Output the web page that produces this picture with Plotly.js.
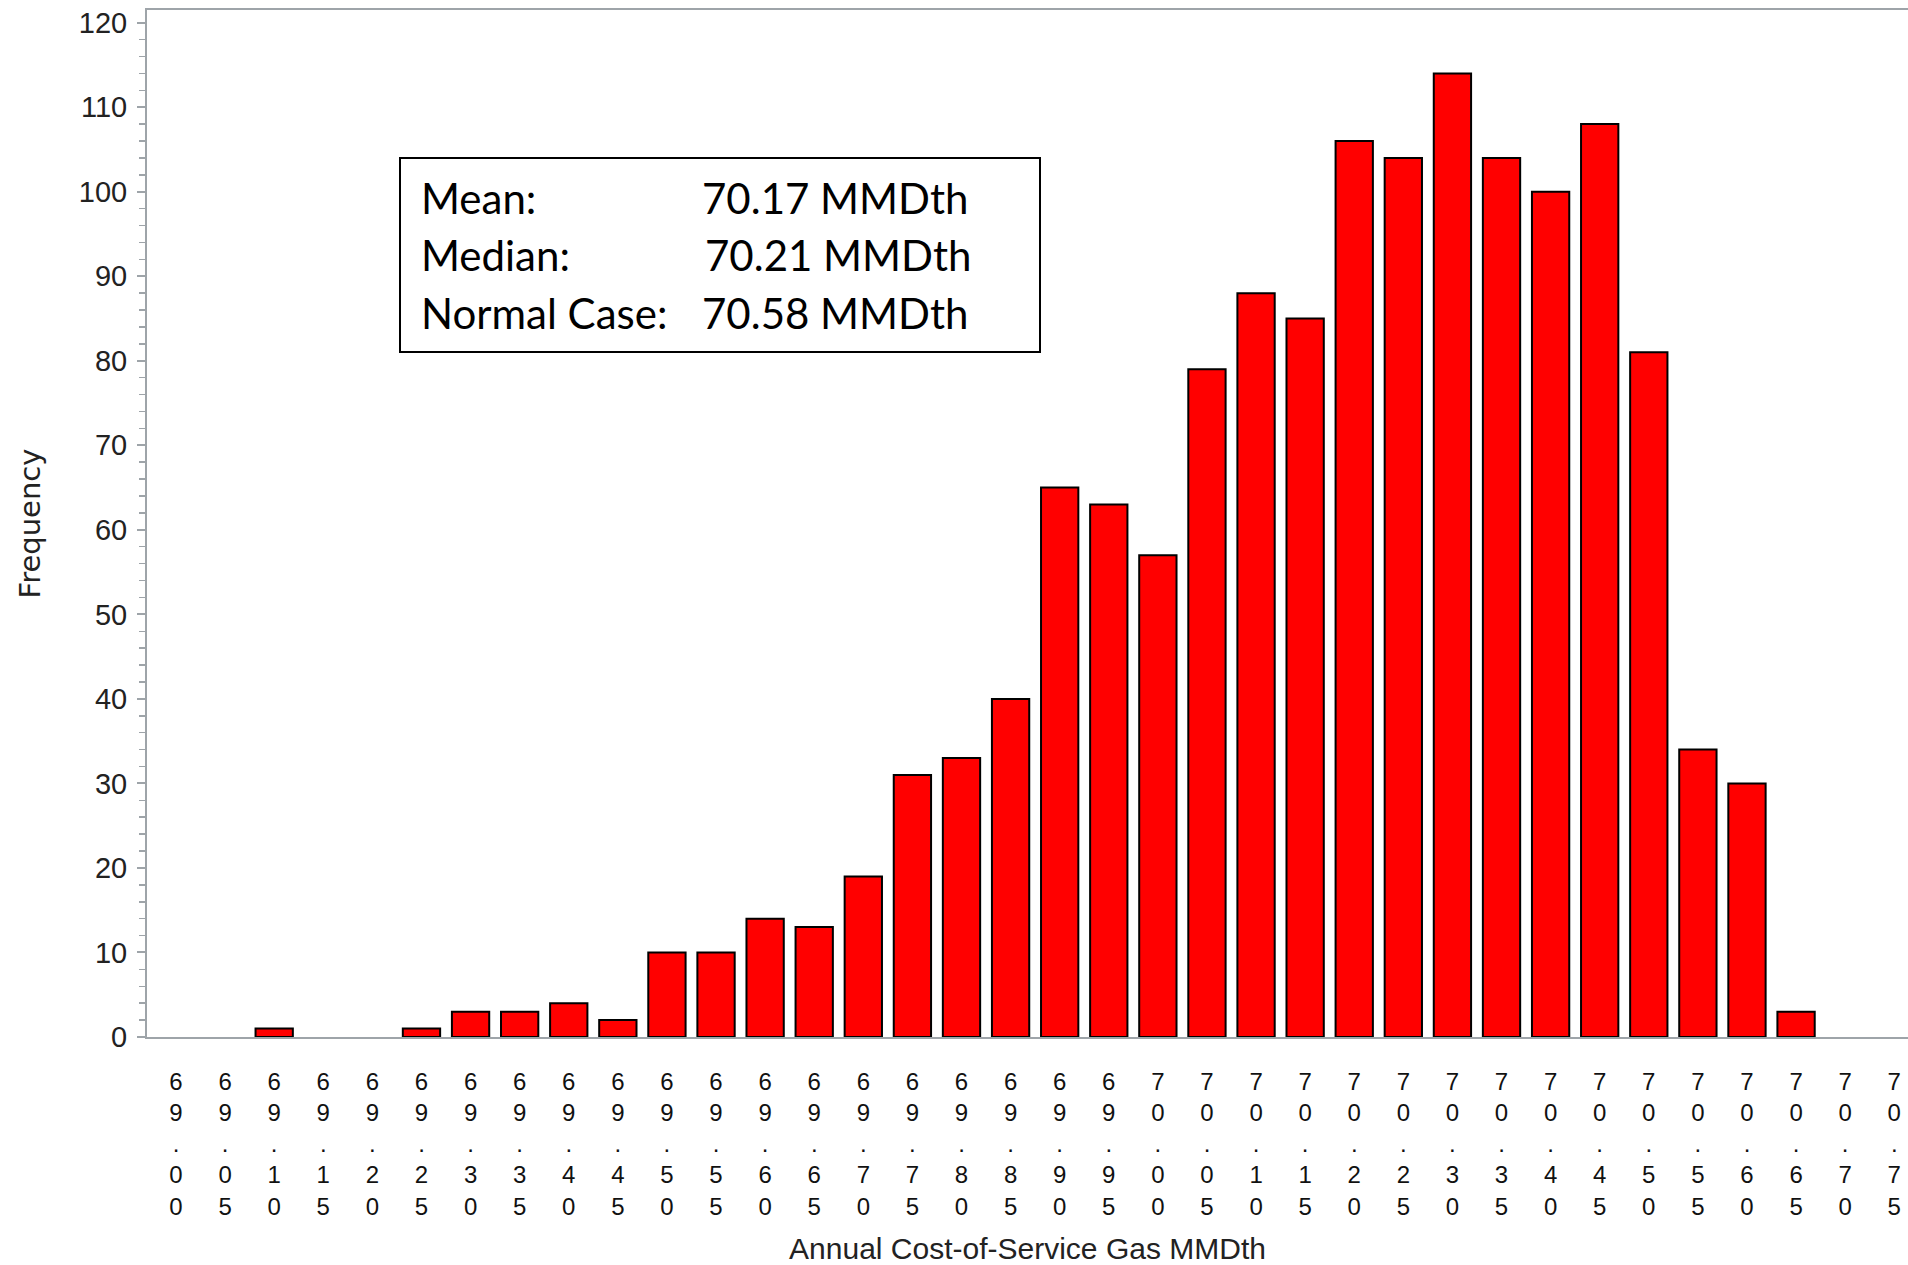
<!DOCTYPE html>
<html>
<head>
<meta charset="utf-8">
<script src="https://cdn.plot.ly/plotly-3.0.1.min.js"></script>
<style>html,body{margin:0;padding:0;background:#ffffff;}</style>
</head>
<body>
<div id="chart" style="width:1908px;height:1265px;"></div>
<script>
// Bin midpoints (tick labels) of the histogram
const bins = ["69.00","69.05","69.10","69.15","69.20","69.25","69.30","69.35","69.40","69.45",
              "69.50","69.55","69.60","69.65","69.70","69.75","69.80","69.85","69.90","69.95",
              "70.00","70.05","70.10","70.15","70.20","70.25","70.30","70.35","70.40","70.45",
              "70.50","70.55","70.60","70.65","70.70","70.75"];
// Frequency per bin
const frequency = [0,0,1,0,0,1,3,3,4,2,
                   10,10,14,13,19,31,33,40,65,63,
                   57,79,88,85,106,104,114,104,100,108,
                   81,34,30,3,0,0];
// Summary statistics box
const statLabels = ["Mean:","Median:","Normal Case:"];
const statValues = ["70.17 MMDth","70.21 MMDth","70.58 MMDth"];

const axisGray = "#9ea4a9";
const tickText = bins.map(b => b.split("").join("<br>"));

// plot area in pixels (used to place paper-referenced annotations)
const W = 1908, H = 1265, L = 147, R = 0, T = 10, B = 228;
const pw = W - L - R, ph = H - T - B;
const px2x = p => (p - L) / pw;
const py2y = p => (H - B - p) / ph;

const rowY = [198, 255.5, 312.7];
const valueX = [700, 703, 700];
const annotations = [];
statLabels.forEach((s, i) => {
  annotations.push({xref:"paper", yref:"paper", x:px2x(419), y:py2y(rowY[i]),
    xanchor:"left", yanchor:"middle", showarrow:false, text:s,
    font:{family:"Lato, 'Noto Sans', sans-serif", size:42, color:"#000"}});
  annotations.push({xref:"paper", yref:"paper", x:px2x(valueX[i]), y:py2y(rowY[i]),
    xanchor:"left", yanchor:"middle", showarrow:false, text:statValues[i],
    font:{family:"Lato, 'Noto Sans', sans-serif", size:42, color:"#000"}});
});

const trace = {
  type: "bar",
  x: bins,
  y: frequency,
  width: 0.76,
  marker: {color: "#ff0000",
           line: {color: "#000000", width: frequency.map(v => v > 0 ? 2 : 0)}},
  hoverinfo: "x+y"
};

const layout = {
  width: W, height: H,
  margin: {l: L, r: R, t: T, b: B, pad: 0},
  paper_bgcolor: "#ffffff",
  plot_bgcolor: "#ffffff",
  showlegend: false,
  font: {family: "'Liberation Sans', Arial, sans-serif", color: "#222"},
  xaxis: {
    type: "category",
    categoryorder: "array",
    categoryarray: bins,
    range: [-0.591, 35.28],
    tickmode: "array",
    tickvals: bins,
    ticktext: tickText,
    tickangle: 0,
    ticks: "",
    tickfont: {size: 24, color: "#111"},
    ticklabelstandoff: 22,
    showline: true, mirror: true, linecolor: axisGray, linewidth: 2,
    showgrid: false, zeroline: false, automargin: false,
    title: {text: "Annual Cost-of-Service Gas MMDth", standoff: 20,
            font: {size: 30, color: "#222"}}
  },
  yaxis: {
    range: [0, 121.5],
    tick0: 0, dtick: 10,
    ticks: "outside", ticklen: 8, tickwidth: 2, tickcolor: axisGray,
    tickfont: {size: 29, color: "#222"},
    ticklabelstandoff: 4,
    minor: {dtick: 2, ticks: "outside", ticklen: 6, tickwidth: 1.5, tickcolor: axisGray, showgrid: false},
    showline: true, mirror: false, linecolor: axisGray, linewidth: 2,
    showgrid: false, zeroline: false, automargin: false,
    title: {text: "Frequency", standoff: 30,
            font: {family: "'DejaVu Sans', sans-serif", size: 29, color: "#222"}}
  },
  shapes: [{
    type: "rect", xref: "paper", yref: "paper",
    x0: px2x(400), x1: px2x(1040), y0: py2y(352), y1: py2y(158),
    line: {color: "#000", width: 2}, fillcolor: "rgba(0,0,0,0)", layer: "above"
  }],
  annotations: annotations
};

Plotly.newPlot("chart", [trace], layout, {displayModeBar: false, staticPlot: true});
</script>
</body>
</html>
